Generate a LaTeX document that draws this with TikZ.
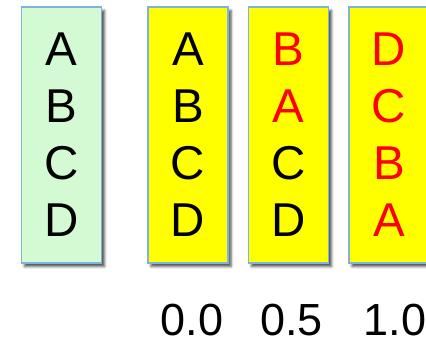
\documentclass[tikz,border=0pt]{standalone}
\usepackage{fontspec}
\setmainfont{Liberation Sans}
\usepackage{xcolor}
\usetikzlibrary{positioning,shadows.blur}
\definecolor{colgreen}{RGB}{212,250,212}
\definecolor{colyellow}{RGB}{255,255,0}
\definecolor{colborder}{RGB}{126,179,221}
\definecolor{colred}{RGB}{255,0,0}
\tikzset{
  listbox/.style={rectangle, draw=colborder, line width=1.5pt, align=center,
                  minimum width=80pt, minimum height=256pt, inner sep=0pt,
                  font=\fontsize{47.5}{57}\selectfont,
                  blur shadow={shadow xshift=3pt, shadow yshift=-3.5pt,
                               shadow blur radius=2.5pt, shadow opacity=70}},
  origbox/.style={listbox, fill=colgreen},
  permbox/.style={listbox, fill=colyellow},
  weightlabel/.style={font=\fontsize{45}{54}\selectfont, inner sep=0pt},
}
\newcommand{\moved}[1]{\textcolor{colred}{#1}}

\begin{document}
\begin{tikzpicture}[x=1pt, y=1pt, node distance=19pt]
    \clip (0,0) rectangle (426,344);
    \node[origbox] (orig) at (61.5,209) {A\\B\\C\\D};
    \node[permbox, right=45pt of orig] (p0) {A\\B\\C\\D};
    \node[permbox, right=of p0] (p5) {\moved{B}\\\moved{A}\\C\\D};
    \node[permbox, right=of p5] (p10) {\moved{D}\\\moved{C}\\\moved{B}\\\moved{A}};
    % mixing weights
    \node[weightlabel, below=40pt of p0.south, anchor=north, xshift=4pt] (w0) {0.0};
    \node[weightlabel, below=40pt of p5.south, anchor=north, xshift=3pt] (w5) {0.5};
    \node[weightlabel, below=40pt of p10.south, anchor=north, xshift=6pt] (w10) {1.0};
\end{tikzpicture}
\end{document}
